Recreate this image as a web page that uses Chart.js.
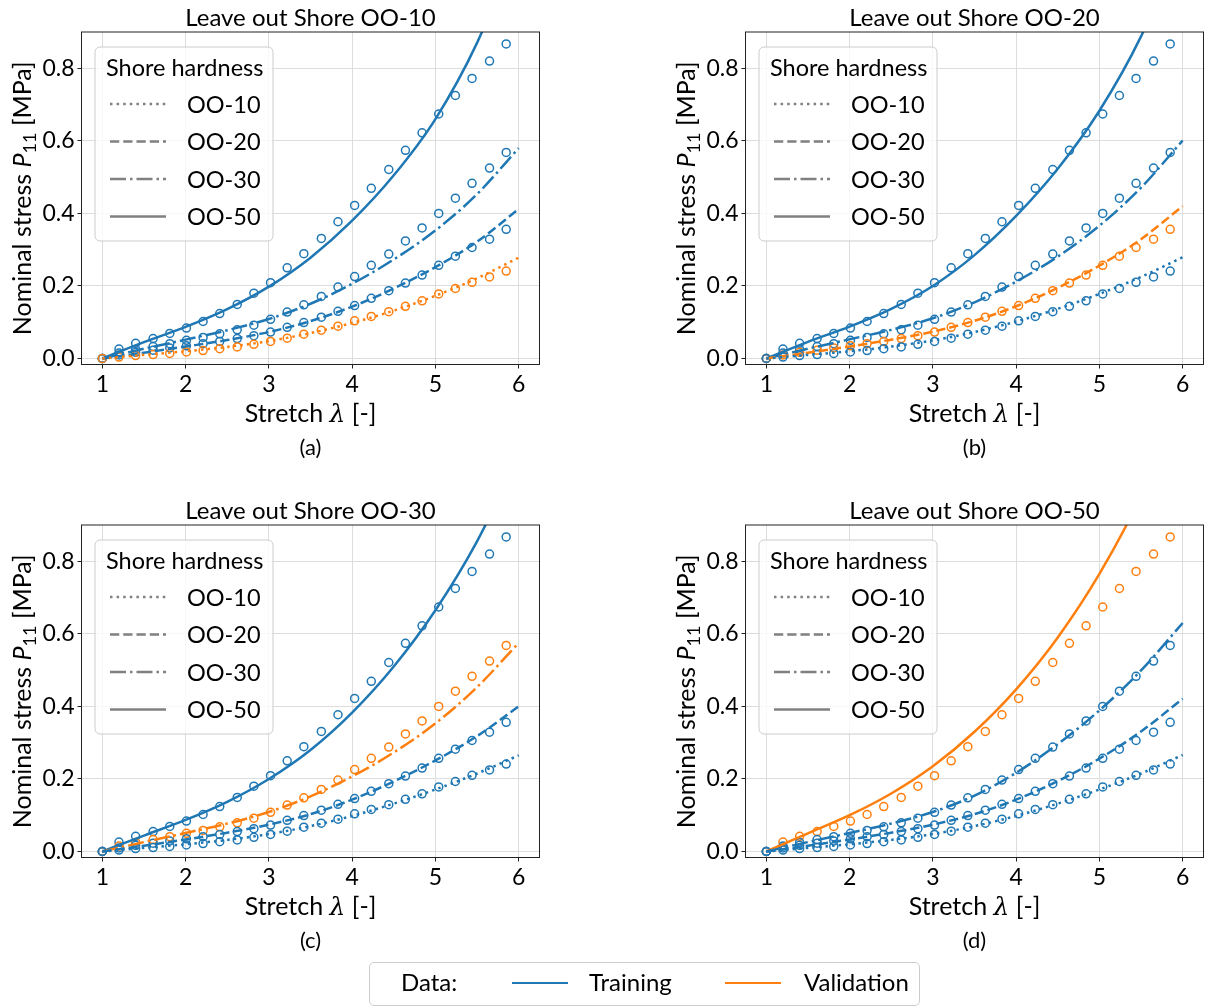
<!DOCTYPE html>
<html>
<head>
<meta charset="utf-8">
<script src="https://cdn.jsdelivr.net/npm/chart.js@4.4.1/dist/chart.umd.min.js"></script>
<style>
  html, body { margin: 0; padding: 0; background: #fff; }
  body { width: 1210px; height: 1007px; position: relative; overflow: hidden; font-family: Lato, sans-serif; }
  .panel { position: absolute; width: 560px; height: 470px; }
  .panel canvas { display: block; }
  #legend-bottom { position: absolute; left: 369px; top: 962px; width: 551px; height: 44px;
    border: 1px solid #cccccc; border-radius: 5px; box-sizing: border-box; }
  #legend-bottom .lt { position: absolute; top: 4px; font-size: 24px; line-height: 30px; color: #000; white-space: nowrap; }
  #legend-bottom .ln { position: absolute; top: 18.5px; width: 56px; height: 2.5px; }
</style>
</head>
<body>
<div class="panel" style="left:0;top:0"><canvas id="pa" width="560" height="470"></canvas></div>
<div class="panel" style="left:664px;top:0"><canvas id="pb" width="560" height="470"></canvas></div>
<div class="panel" style="left:0;top:493px"><canvas id="pc" width="560" height="470"></canvas></div>
<div class="panel" style="left:664px;top:493px"><canvas id="pd" width="560" height="470"></canvas></div>
<div id="legend-bottom">
  <span class="lt" style="left:31px">Data:</span>
  <span class="ln" style="left:142px;background:#1f77b4"></span>
  <span class="lt" style="left:219px">Training</span>
  <span class="ln" style="left:355px;background:#ff7f0e"></span>
  <span class="lt" style="left:434px">Validation</span>
</div>
<script>
// ---- measured data (same in every panel) ----
const stretchData = [1.0, 1.2, 1.4, 1.61, 1.81, 2.01, 2.21, 2.41, 2.62, 2.82, 3.02, 3.22, 3.42,
  3.63, 3.83, 4.03, 4.23, 4.44, 4.64, 4.84, 5.04, 5.24, 5.44, 5.65, 5.85];
const stressOO10 = [0, 0.004, 0.008, 0.011, 0.014, 0.018, 0.022, 0.027, 0.032, 0.039, 0.047, 0.056, 0.067,
  0.078, 0.089, 0.104, 0.116, 0.129, 0.144, 0.159, 0.178, 0.193, 0.21, 0.225, 0.241];
const stressOO20 = [0, 0.010, 0.017, 0.023, 0.029, 0.035, 0.041, 0.047, 0.055, 0.063, 0.073, 0.086, 0.099,
  0.114, 0.13, 0.146, 0.166, 0.187, 0.208, 0.23, 0.257, 0.282, 0.306, 0.329, 0.356];
const stressOO30 = [0, 0.015, 0.025, 0.033, 0.041, 0.05, 0.058, 0.068, 0.079, 0.092, 0.108, 0.128, 0.148,
  0.171, 0.197, 0.226, 0.257, 0.288, 0.324, 0.36, 0.40, 0.442, 0.483, 0.525, 0.568];
const stressOO50 = [0, 0.026, 0.042, 0.055, 0.069, 0.084, 0.102, 0.124, 0.149, 0.18, 0.209, 0.25, 0.289,
  0.331, 0.377, 0.422, 0.469, 0.521, 0.574, 0.622, 0.674, 0.725, 0.772, 0.82, 0.867];

// ---- model predictions, one set per leave-out panel ----
const stretchModel = [1, 1.5, 2, 2.5, 3, 3.5, 4, 4.5, 5, 5.5, 6];
const fitA10 = [0, 0.010, 0.020, 0.032, 0.048, 0.070, 0.098, 0.132, 0.173, 0.221, 0.278];
const fitA20 = [0, 0.016, 0.033, 0.051, 0.073, 0.103, 0.143, 0.193, 0.252, 0.322, 0.412];
const fitA30 = [0, 0.027, 0.052, 0.078, 0.109, 0.151, 0.206, 0.273, 0.353, 0.453, 0.58];
const fitA50 = [0, 0.045, 0.087, 0.136, 0.198, 0.278, 0.38, 0.505, 0.66, 0.87, 1.15];
const fitB10 = [0, 0.010, 0.020, 0.033, 0.050, 0.073, 0.102, 0.137, 0.178, 0.225, 0.279];
const fitB20 = [0, 0.016, 0.033, 0.052, 0.074, 0.104, 0.144, 0.195, 0.256, 0.329, 0.42];
const fitB30 = [0, 0.027, 0.053, 0.079, 0.111, 0.155, 0.212, 0.281, 0.366, 0.471, 0.601];
const fitB50 = [0, 0.046, 0.088, 0.137, 0.2, 0.285, 0.393, 0.523, 0.683, 0.888, 1.158];
const fitC10 = [0, 0.010, 0.020, 0.032, 0.048, 0.070, 0.098, 0.132, 0.171, 0.215, 0.265];
const fitC20 = [0, 0.016, 0.033, 0.052, 0.074, 0.103, 0.143, 0.193, 0.251, 0.318, 0.4];
const fitC30 = [0, 0.026, 0.051, 0.077, 0.109, 0.152, 0.207, 0.273, 0.353, 0.453, 0.575];
const fitC50 = [0, 0.044, 0.087, 0.137, 0.2, 0.28, 0.383, 0.51, 0.665, 0.855, 1.09];
const fitD10 = [0, 0.010, 0.020, 0.032, 0.048, 0.070, 0.098, 0.132, 0.171, 0.215, 0.266];
const fitD20 = [0, 0.016, 0.033, 0.052, 0.074, 0.103, 0.143, 0.194, 0.256, 0.331, 0.421];
const fitD30 = [0, 0.026, 0.051, 0.077, 0.109, 0.154, 0.217, 0.296, 0.389, 0.499, 0.63];
const fitD50 = [0, 0.05, 0.1, 0.16, 0.235, 0.33, 0.447, 0.59, 0.765, 0.98, 1.245];

const hardness = ['OO-10', 'OO-20', 'OO-30', 'OO-50'];
const xTicks = [1, 2, 3, 4, 5, 6];
const yTicks = [0, 0.2, 0.4, 0.6, 0.8];

const FONT = 'Lato, "Open Sans", sans-serif';
const BLUE = '#1f77b4', ORANGE = '#ff7f0e';
const DASHES = { 'OO-10': [2.5, 4.1], 'OO-20': [9.25, 4], 'OO-30': [16, 4, 2.5, 4], 'OO-50': [] };
const measured = { 'OO-10': stressOO10, 'OO-20': stressOO20, 'OO-30': stressOO30, 'OO-50': stressOO50 };

const panels = [
  { id: 'pa', left: 'OO-10', caption: '(a)', fits: [fitA10, fitA20, fitA30, fitA50] },
  { id: 'pb', left: 'OO-20', caption: '(b)', fits: [fitB10, fitB20, fitB30, fitB50] },
  { id: 'pc', left: 'OO-30', caption: '(c)', fits: [fitC10, fitC20, fitC30, fitC50] },
  { id: 'pd', left: 'OO-50', caption: '(d)', fits: [fitD10, fitD20, fitD30, fitD50] },
];

// draw a row of text pieces (different fonts) starting at x
function drawPieces(ctx, pieces, x, y) {
  pieces.forEach(p => {
    ctx.font = p.font;
    ctx.fillText(p.text, x, y + (p.dy || 0));
    x += ctx.measureText(p.text).width;
  });
}
function piecesWidth(ctx, pieces) {
  return pieces.reduce((w, p) => { ctx.font = p.font; return w + ctx.measureText(p.text).width; }, 0);
}

const decor = {
  id: 'decor',
  afterDatasetsDraw(chart, args, opts) {
    const { ctx, chartArea: a } = chart;
    ctx.save();
    // legend box
    const bx = a.left + 13.5, by = a.top + 15, bw = 178, bh = 194;
    ctx.beginPath();
    ctx.roundRect(bx, by, bw, bh, 5);
    ctx.fillStyle = 'rgba(255,255,255,0.8)';
    ctx.fill();
    ctx.strokeStyle = '#cccccc';
    ctx.lineWidth = 1;
    ctx.stroke();
    ctx.fillStyle = '#000';
    ctx.textBaseline = 'alphabetic';
    ctx.textAlign = 'left';
    ctx.font = '23.5px ' + FONT;
    ctx.fillText('Shore hardness', bx + 11, by + 29);
    ctx.font = '23.5px ' + FONT;
    hardness.forEach((h, i) => {
      const y = by + 57 + i * 37.5;
      ctx.beginPath();
      ctx.setLineDash(DASHES[h]);
      ctx.strokeStyle = '#808080';
      ctx.lineWidth = 2.5;
      ctx.moveTo(bx + 15, y);
      ctx.lineTo(bx + 71, y);
      ctx.stroke();
      ctx.setLineDash([]);
      ctx.fillText(h, bx + 92, y + 8.5);
    });
    ctx.restore();
  },
  afterDraw(chart, args, opts) {
    const { ctx, chartArea: a } = chart;
    const cx = (a.left + a.right) / 2;
    ctx.save();
    ctx.strokeStyle = '#222';
    ctx.lineWidth = 1;
    ctx.strokeRect(a.left, a.top, a.right - a.left, a.bottom - a.top);
    ctx.fillStyle = '#000';
    ctx.textAlign = 'left';
    ctx.textBaseline = 'alphabetic';
    // title
    ctx.font = '24px ' + FONT;
    const title = 'Leave out Shore ' + opts.left;
    ctx.fillText(title, cx - ctx.measureText(title).width / 2, 26);
    // x label
    const xl = [
      { text: 'Stretch ', font: '25px ' + FONT },
      { text: 'λ', font: 'italic 25px "DejaVu Serif", serif' },
      { text: ' [-]', font: '25px ' + FONT },
    ];
    drawPieces(ctx, xl, cx - piecesWidth(ctx, xl) / 2, 422);
    // caption
    ctx.font = '22px ' + FONT;
    ctx.fillText(opts.caption, cx - ctx.measureText(opts.caption).width / 2, 455);
    // y label, rotated
    const yl = [
      { text: 'Nominal stress ', font: '25px ' + FONT },
      { text: 'P', font: 'italic 25px ' + FONT },
      { text: '11', font: '18px ' + FONT, dy: 5 },
      { text: ' [MPa]', font: '25px ' + FONT },
    ];
    ctx.translate(22, (a.top + a.bottom) / 2);
    ctx.rotate(-Math.PI / 2);
    drawPieces(ctx, yl, -piecesWidth(ctx, yl) / 2, 9);
    ctx.restore();
  }
};

panels.forEach(p => {
  const datasets = [];
  hardness.forEach((h, i) => {
    const color = h === p.left ? ORANGE : BLUE;
    datasets.push({
      data: stretchModel.map((x, k) => ({ x, y: p.fits[i][k] })),
      showLine: true, pointRadius: 0, borderColor: color, borderWidth: 2.5,
      borderDash: DASHES[h], cubicInterpolationMode: 'monotone', fill: false, clip: 0,
    });
  });
  hardness.forEach(h => {
    const color = h === p.left ? ORANGE : BLUE;
    datasets.push({
      data: stretchData.map((x, k) => ({ x, y: measured[h][k] })),
      showLine: false, pointRadius: 4, pointBorderWidth: 1.5,
      pointBorderColor: color, pointBackgroundColor: 'rgba(0,0,0,0)', clip: 3,
    });
  });

  new Chart(document.getElementById(p.id), {
    type: 'scatter',
    data: { datasets },
    plugins: [decor],
    options: {
      responsive: false,
      animation: false,
      events: [],
      layout: { padding: { top: 32, right: 20.5, left: 0, bottom: 0 } },
      plugins: {
        legend: { display: false },
        title: { display: false },
        tooltip: { enabled: false },
        decor: { left: p.left, caption: p.caption },
      },
      scales: {
        x: {
          type: 'linear', min: 0.75, max: 6.25,
          afterBuildTicks: ax => { ax.ticks = xTicks.map(v => ({ value: v })); },
          afterFit: s => { s.height = 105.5; },
          ticks: { color: '#000', padding: 2, font: { family: FONT, size: 23 }, callback: v => String(v) },
          grid: { color: '#dddddd', lineWidth: 1, tickColor: '#222', tickLength: 4 },
          border: { color: '#222', width: 1 },
        },
        y: {
          type: 'linear', min: -0.0165, max: 0.9,
          afterBuildTicks: ax => { ax.ticks = yTicks.map(v => ({ value: v })); },
          afterFit: s => { s.width = 81.5; },
          ticks: { color: '#000', padding: 3, font: { family: FONT, size: 23 }, callback: v => v.toFixed(1) },
          grid: { color: '#dddddd', lineWidth: 1, tickColor: '#222', tickLength: 4 },
          border: { color: '#222', width: 1 },
        },
      },
    },
  });
});
</script>
</body>
</html>
